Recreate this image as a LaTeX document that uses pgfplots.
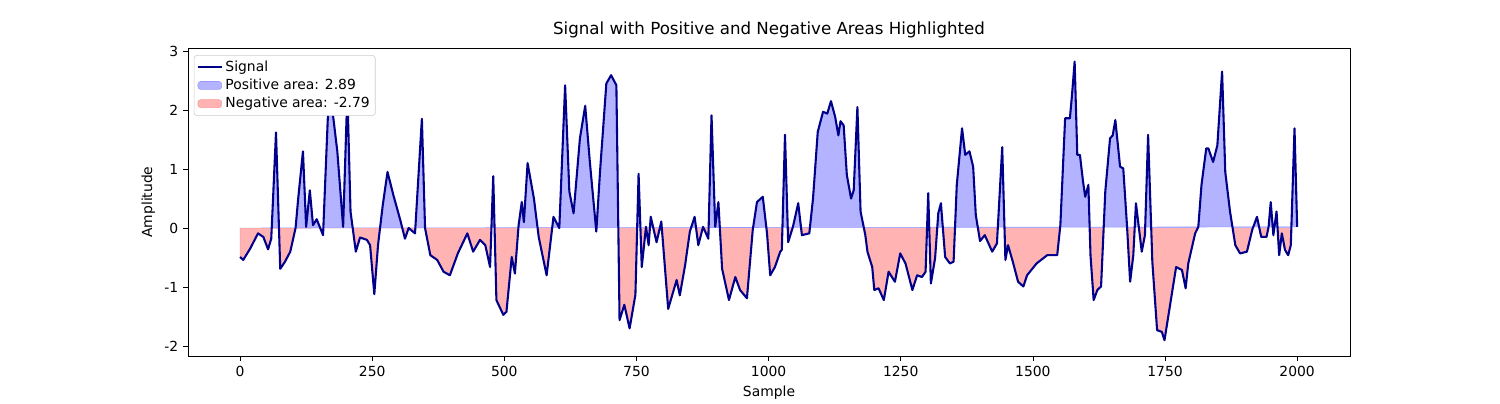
\documentclass[border=0pt]{standalone}
\usepackage{pgfplots}
\pgfplotsset{compat=1.18}
\usepackage{fontspec}
\setmainfont{DejaVu Sans}
\pgfplotstableread{
s v
0 -0.49
6 -0.54
19 -0.35
34 -0.09
44 -0.15
53 -0.36
59 -0.18
68 1.62
76 -0.69
85 -0.57
95 -0.40
105 0.0
110 0.5
119 1.3
125 0.02
132 0.64
138 0.05
145 0.15
157 -0.12
167 2.08
176 1.9
184 1.3
195 0.02
203 2.3
209 0.28
219 -0.4
227 -0.16
240 -0.2
246 -0.29
254 -1.12
261 -0.29
270 0.39
279 0.95
290 0.56
303 0.14
312 -0.18
319 0.0
331 -0.09
344 1.85
350 0.0
360 -0.46
373 -0.54
385 -0.74
397 -0.8
412 -0.43
430 -0.09
441 -0.4
454 -0.2
464 -0.29
473 -0.66
479 0.88
485 -1.22
498 -1.47
504 -1.42
514 -0.49
520 -0.77
527 0.05
533 0.44
537 0.1
544 1.1
556 0.5
565 -0.15
580 -0.8
593 0.19
604 0.0
615 2.42
623 0.62
631 0.25
643 1.52
653 2.07
662 1.1
674 -0.06
681 0.95
693 2.45
702 2.59
712 2.42
718 -1.56
727 -1.3
737 -1.7
748 -1.13
754 0.92
760 -0.66
768 0.02
773 -0.29
777 0.19
788 -0.24
797 0.11
810 -1.37
826 -0.88
832 -1.14
842 -0.63
851 -0.06
860 0.19
867 -0.29
876 0.02
886 -0.18
892 1.91
899 0.02
905 0.44
912 -0.69
925 -1.22
937 -0.83
946 -1.05
959 -1.19
970 -0.03
978 0.44
989 0.53
997 -0.09
1003 -0.8
1012 -0.66
1022 -0.4
1025 -0.37
1031 1.58
1037 -0.24
1046 0.02
1056 0.42
1063 -0.12
1077 -0.09
1084 0.5
1093 1.63
1103 1.97
1111 1.94
1118 2.15
1126 1.88
1132 1.57
1136 1.81
1142 1.74
1148 0.9
1156 0.5
1161 0.64
1168 2.05
1174 0.28
1183 -0.12
1187 -0.4
1196 -0.66
1200 -1.05
1208 -1.02
1218 -1.22
1227 -0.74
1239 -0.91
1249 -0.43
1259 -0.6
1272 -1.05
1281 -0.8
1290 -0.83
1297 -0.74
1302 0.59
1307 -0.94
1315 -0.51
1321 0.25
1326 0.42
1334 -0.49
1343 -0.6
1350 -0.57
1356 0.73
1366 1.69
1372 1.24
1380 1.3
1387 1.04
1392 0.22
1400 -0.22
1409 -0.12
1423 -0.4
1432 -0.26
1442 1.37
1448 -0.54
1453 -0.29
1462 -0.57
1472 -0.91
1482 -0.99
1489 -0.8
1507 -0.6
1527 -0.46
1546 -0.46
1552 0.05
1561 1.86
1570 1.86
1574 2.25
1579 2.82
1584 1.24
1589 1.24
1595 0.78
1599 0.53
1605 0.73
1609 -0.46
1615 -1.22
1622 -1.05
1629 -0.99
1637 0.62
1646 1.52
1651 1.57
1656 1.83
1665 1.04
1671 1.01
1678 0.05
1684 -0.91
1690 -0.46
1695 0.42
1706 -0.4
1712 -0.12
1718 1.58
1726 -0.57
1735 -1.73
1744 -1.76
1749 -1.9
1760 -1.28
1771 -0.66
1782 -0.71
1789 -1.02
1794 -0.6
1807 -0.09
1813 0.02
1819 0.73
1828 1.35
1832 1.35
1841 1.12
1849 1.4
1858 2.65
1864 0.95
1873 0.28
1883 -0.29
1892 -0.43
1905 -0.4
1915 -0.03
1924 0.19
1932 -0.15
1942 -0.15
1946 0.02
1950 0.44
1955 -0.12
1961 0.28
1966 -0.46
1971 -0.09
1977 -0.37
1983 -0.46
1988 -0.29
1995 1.69
2000 0.02
}\sig
\definecolor{posf}{RGB}{179,179,255}
\definecolor{negf}{RGB}{255,179,179}
\definecolor{sigc}{RGB}{0,0,139}
\begin{document}
\begin{tikzpicture}[x=1pt,y=1pt]
\begin{axis}[
  scale only axis, width=836.6pt, height=221.8pt,
  xmin=-98.4, xmax=2100, ymin=-2.17, ymax=3.05,
  xtick={0,250,...,2000}, ytick={-2,-1,0,1,2,3},
  /pgf/number format/assume math mode=true,
  /pgf/number format/1000 sep={},
  tick align=outside, tick style={black, thin}, tick pos=left,
  major tick length=3.5pt,
  ticklabel style={font=\fontsize{10}{12}\selectfont},
  xlabel={Sample}, ylabel={Amplitude},
  label style={font=\fontsize{10}{12}\selectfont},
  title={Signal with Positive and Negative Areas Highlighted},
  title style={font=\fontsize{12}{14}\selectfont, yshift=-2pt},
  legend style={at={(0.005,0.977)}, anchor=north west, font=\fontsize{10}{12}\selectfont, draw=black!20, rounded corners=2pt, row sep=0pt, inner sep=2pt},
  legend cell align=left,
]
\begin{scope}
\clip (axis cs:-100,0) rectangle (axis cs:2100,4);
\addplot[fill=posf, draw=blue!40, forget plot] table[x=s,y=v]{\sig} -- (axis cs:0,0) -- cycle;
\end{scope}
\begin{scope}
\clip (axis cs:-100,-3) rectangle (axis cs:2100,0);
\addplot[fill=negf, draw=red!40, forget plot] table[x=s,y=v]{\sig} -- (axis cs:0,0) -- cycle;
\end{scope}
\addplot[sigc, line width=1.5pt, line join=round] table[x=s,y=v]{\sig};
\addlegendentry{Signal}
\addlegendimage{area legend, fill=posf, draw=blue!40}
\addlegendentry{Positive area: 2.89}
\addlegendimage{area legend, fill=negf, draw=red!40}
\addlegendentry{Negative area: -2.79}
\end{axis}
\path (current axis.south west) ++(-135.4pt,-31.7pt) coordinate (bl);
\path (current axis.north east) ++(108pt,34.6pt) coordinate (tr);
\useasboundingbox (bl) rectangle (tr);
\end{tikzpicture}
\end{document}
